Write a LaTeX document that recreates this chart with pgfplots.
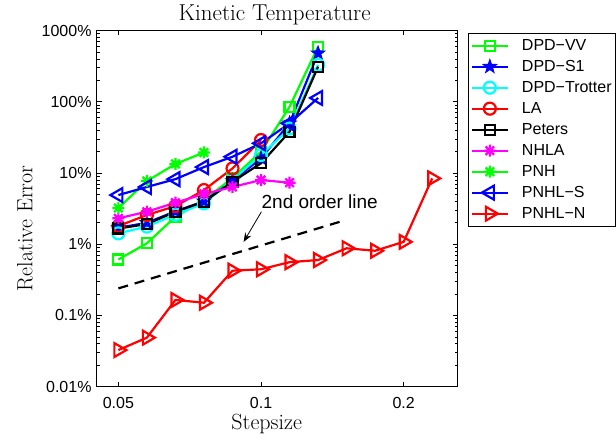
\documentclass[border=0pt]{standalone}
\usepackage{fontspec}
\newfontfamily\hv{Liberation Sans}
\usepackage{pgfplots}
\pgfplotsset{compat=1.18}
\usetikzlibrary{arrows.meta}

% matlab style '*' (plus and cross)
\pgfdeclareplotmark{mstar}{%
  \pgfpathmoveto{\pgfqpoint{-\pgfplotmarksize}{0pt}}%
  \pgfpathlineto{\pgfqpoint{\pgfplotmarksize}{0pt}}%
  \pgfpathmoveto{\pgfqpoint{0pt}{-\pgfplotmarksize}}%
  \pgfpathlineto{\pgfqpoint{0pt}{\pgfplotmarksize}}%
  \pgfpathmoveto{\pgfqpoint{-0.707\pgfplotmarksize}{-0.707\pgfplotmarksize}}%
  \pgfpathlineto{\pgfqpoint{0.707\pgfplotmarksize}{0.707\pgfplotmarksize}}%
  \pgfpathmoveto{\pgfqpoint{-0.707\pgfplotmarksize}{0.707\pgfplotmarksize}}%
  \pgfpathlineto{\pgfqpoint{0.707\pgfplotmarksize}{-0.707\pgfplotmarksize}}%
  \pgfusepathqstroke}
% pentagram
\pgfdeclareplotmark{pentagram}{%
  \pgfpathmoveto{\pgfqpointpolar{90}{\pgfplotmarksize}}%
  \pgfpathlineto{\pgfqpointpolar{126}{0.4\pgfplotmarksize}}%
  \pgfpathlineto{\pgfqpointpolar{162}{\pgfplotmarksize}}%
  \pgfpathlineto{\pgfqpointpolar{198}{0.4\pgfplotmarksize}}%
  \pgfpathlineto{\pgfqpointpolar{234}{\pgfplotmarksize}}%
  \pgfpathlineto{\pgfqpointpolar{270}{0.4\pgfplotmarksize}}%
  \pgfpathlineto{\pgfqpointpolar{306}{\pgfplotmarksize}}%
  \pgfpathlineto{\pgfqpointpolar{342}{0.4\pgfplotmarksize}}%
  \pgfpathlineto{\pgfqpointpolar{18}{\pgfplotmarksize}}%
  \pgfpathlineto{\pgfqpointpolar{54}{0.4\pgfplotmarksize}}%
  \pgfpathclose
  \pgfusepathqfillstroke}

\definecolor{mgreen}{rgb}{0,1,0}
\definecolor{mcyan}{rgb}{0,1,1}
\definecolor{mmag}{rgb}{1,0,1}

\begin{document}
\begin{tikzpicture}[x=1pt,y=1pt]
\useasboundingbox (-96.7,-53.3) rectangle (519.3,386.7);
\begin{axis}[
  at={(0,0)}, anchor=south west,
  scale only axis, width=361pt, height=356.2pt,
  xmode=log, ymode=log,
  xmin=0.045, xmax=0.26,
  ymin=0.01, ymax=1000,
  xtick={0.05,0.1,0.2},
  xticklabels={0.05,0.1,0.2},
  ytick={0.01,0.1,1,10,100,1000},
  yticklabels={0.01\%,0.1\%,1\%,10\%,100\%,1000\%},
  minor ytick={0.02,0.03,0.04,0.05,0.06,0.07,0.08,0.09,
    0.2,0.3,0.4,0.5,0.6,0.7,0.8,0.9,
    2,3,4,5,6,7,8,9,
    20,30,40,50,60,70,80,90,
    200,300,400,500,600,700,800,900},
  axis line style={line width=1pt},
  tick style={line width=0.7pt, black},
  major tick length=5pt, minor tick length=3pt,
  ticklabel style={font=\hv\fontsize{16}{19}\selectfont},
  xticklabel style={anchor=base, inner sep=0pt, yshift=-22pt},
  yticklabel style={anchor=east, inner sep=0pt, xshift=-5pt},
  every axis title shift=0pt,
  title={Kinetic Temperature},
  title style={font=\fontsize{23}{27}\selectfont, at={(axis description cs:0.493,1.0275)}, anchor=base, inner sep=0pt},
  xlabel={Stepsize},
  xlabel style={font=\fontsize{22}{26}\selectfont, at={(axis description cs:0.471,-0.1196)}, anchor=base, inner sep=0pt},
  ylabel={Relative Error},
  ylabel style={font=\fontsize{22}{26}\selectfont, at={(axis description cs:-0.178,0.445)}, anchor=base, inner sep=0pt},
  every axis plot/.append style={line width=2.2pt},
  legend style={at={(axis description cs:1.0294,0.9938)}, anchor=north west,
    draw=black, line width=0.9pt, font=\hv\fontsize{16}{19}\selectfont,
    inner xsep=2pt, inner ysep=3pt, row sep=2pt,
    nodes={inner sep=2pt, text height=12pt, text depth=3pt}},
  legend cell align=left,
  legend image code/.code={%
    \path (0pt,0pt) (47pt,0pt);
    \draw[mark repeat=2,mark phase=2] plot coordinates {(0pt,0pt) (18pt,0pt) (36pt,0pt)};},
]

% DPD-VV
\addplot[color=mgreen, mark=square, mark size=5pt, mark options={solid}]
coordinates {(0.05,0.61)(0.05743,1.03)(0.06598,2.43)(0.07579,4.18)(0.08706,8.5)(0.1,19.9)(0.11487,85)(0.13195,593)};
\addlegendentry{DPD−VV}

% DPD-S1
\addplot[color=blue, mark=pentagram, mark size=7pt, mark options={solid, fill=blue, line width=1pt}]
coordinates {(0.05,1.7)(0.05743,2.0)(0.06598,2.9)(0.07579,4.0)(0.08706,7.8)(0.1,16)(0.11487,50)(0.13195,480)};
\addlegendentry{DPD−S1}

% DPD-Trotter
\addplot[color=mcyan, mark=o, mark size=6pt, mark options={solid}]
coordinates {(0.05,1.42)(0.05743,1.77)(0.06598,2.6)(0.07579,3.75)(0.08706,8.0)(0.1,17.9)(0.11487,42)(0.13195,330)};
\addlegendentry{DPD−Trotter}

% LA
\addplot[color=red, mark=o, mark size=6pt, mark options={solid}]
coordinates {(0.05,1.80)(0.05743,2.57)(0.06598,3.43)(0.07579,5.76)(0.08706,11.6)(0.1,29.0)};
\addlegendentry{LA}

% Peters
\addplot[color=black, mark=square, mark size=5pt, mark options={solid}]
coordinates {(0.05,1.66)(0.05743,1.92)(0.06598,2.86)(0.07579,3.95)(0.08706,7.55)(0.1,13.7)(0.11487,37.9)(0.13195,310)};
\addlegendentry{Peters}

% NHLA
\addplot[color=mmag, mark=mstar, mark size=6pt, mark options={solid}]
coordinates {(0.05,2.31)(0.05743,2.86)(0.06598,3.83)(0.07579,5.07)(0.08706,6.36)(0.1,7.97)(0.11487,7.3)};
\addlegendentry{NHLA}

% PNH
\addplot[color=mgreen, mark=mstar, mark size=6pt, mark options={solid}]
coordinates {(0.05,3.22)(0.05743,7.7)(0.06598,13.4)(0.07579,19.4)};
\addlegendentry{PNH}

% PNHL-S
\addplot[color=blue, mark=triangle, mark size=8pt, mark options={solid, rotate=90}]
coordinates {(0.05,4.9)(0.05743,6.36)(0.06598,8.2)(0.07579,12.1)(0.08706,16.9)(0.1,26.1)(0.11487,49.8)(0.13195,113)};
\addlegendentry{PNHL−S}

% PNHL-N
\addplot[color=red, mark=triangle, mark size=8pt, mark options={solid, rotate=-90}]
coordinates {(0.05,0.0327)(0.05743,0.0488)(0.06598,0.165)(0.07579,0.151)(0.08706,0.425)(0.1,0.445)(0.11487,0.56)(0.13195,0.60)(0.15157,0.877)(0.17411,0.81)(0.2,1.08)(0.22974,8.4)};
\addlegendentry{PNHL−N}

% 2nd order reference line
\addplot[forget plot, color=black, dash pattern=on 10pt off 7pt, line width=2.2pt]
coordinates {(0.05,0.24)(0.15,2.16)};

\draw[-{Stealth[length=9pt,width=7pt]}, line width=0.8pt] (axis cs:0.1002,2.86) -- (axis cs:0.0919,1.08);
\node[anchor=base west, inner sep=0pt, font=\hv\fontsize{19}{22}\selectfont] at (axis cs:0.1002,3.19) {2nd order line};

\end{axis}
\end{tikzpicture}
\end{document}
